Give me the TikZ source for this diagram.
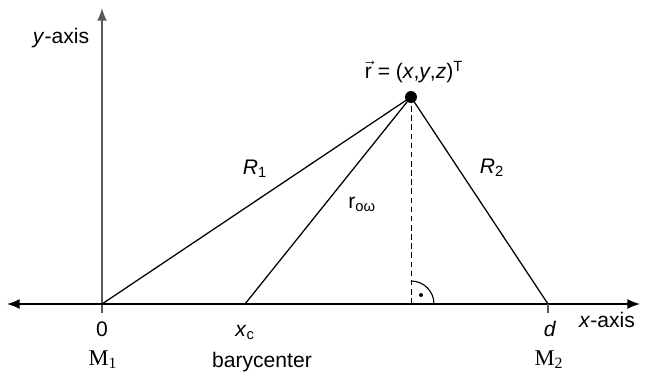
\documentclass[tikz,border=0pt]{standalone}
\usepackage{fontspec}
\setmainfont{Liberation Sans}
\newfontfamily\serfont{Liberation Serif}
\usetikzlibrary{arrows.meta,positioning,calc}

\begin{document}
\begin{tikzpicture}[
  x=0.025cm, y=0.025cm,
  axisline/.style={{Latex[length=9pt,width=7pt]}-{Latex[length=9pt,width=7pt]}, line width=0.8pt},
  yline/.style={-{Latex[length=9pt,width=7pt]}, line width=1.1pt, draw=black!65},
  side/.style={line width=0.9pt},
  pt/.style={circle, fill=black, inner sep=0pt, minimum size=8.5pt},
  lbl/.style={font=\fontsize{15}{17}\selectfont, inner sep=1pt},
  mlbl/.style={font=\serfont\fontsize{16}{18}\selectfont, inner sep=1pt, anchor=base}
]
\useasboundingbox (0,0) rectangle (645,378);

% axes
\coordinate (west)  at (7,74);
\coordinate (east)  at (640,74);
\coordinate (orig)  at (102,74);
\coordinate (ytop)  at (102,370);
\coordinate (ybot)  at (102,65);
\coordinate (bary)  at (245,74);
\coordinate (mtwo)  at (548,74);
\coordinate (mtwob) at (548,65);
\coordinate (foot)  at (411,74);
\node[pt] (pos) at (411,281) {};

\draw[yline] (ybot) -- (ytop);
\draw[axisline] (west) -- (east);
\draw[line width=1.1pt, black!65] (mtwo) -- (mtwob);

% triangle
\draw[side] (orig) -- (pos.center);
\draw[side] (bary) -- (pos.center);
\draw[side] (mtwo) -- (pos.center);
\draw[line width=0.6pt, dash pattern=on 4pt off 2.5pt] (pos.center) -- (foot);

% right angle
\draw[line width=0.8pt] ($(foot)+(0,23)$) arc[start angle=90, end angle=0, radius=23];
\fill ($(foot)+(10,9)$) circle[radius=2];

% labels
\node[lbl] (ylab)  at (61,340) {\textit{y}-axis};
\node[lbl] (xlab)  at (607,58) {\textit{x}-axis};
\node[lbl, anchor=base] (zero) at (102,42) {0};
\node[lbl, anchor=base] (xc)   at (245,42) {\textit{x}\textsubscript{c}};
\node[lbl, anchor=base] (dlab) at (550,42) {\textit{d}};
\node[mlbl] (mone) at (103,13) {M\textsubscript{1}};
\node[lbl, anchor=base] (blab) at (262,11) {barycenter};
\node[mlbl] (mtl)  at (549,13) {M\textsubscript{2}};
\node[lbl] (rone)  at (255,209) {\textit{R}\textsubscript{1}};
\node[lbl] (rtwo)  at (492,210) {\textit{R}\textsubscript{2}};
\node[lbl] (rom)   at (362,174) {r\textsubscript{oω}};
\node[lbl] (plab)  at (414,306) {$\vec{\mbox{r}}$ = (\textit{x},\textit{y},\textit{z})\textsuperscript{T}};
\end{tikzpicture}
\end{document}
